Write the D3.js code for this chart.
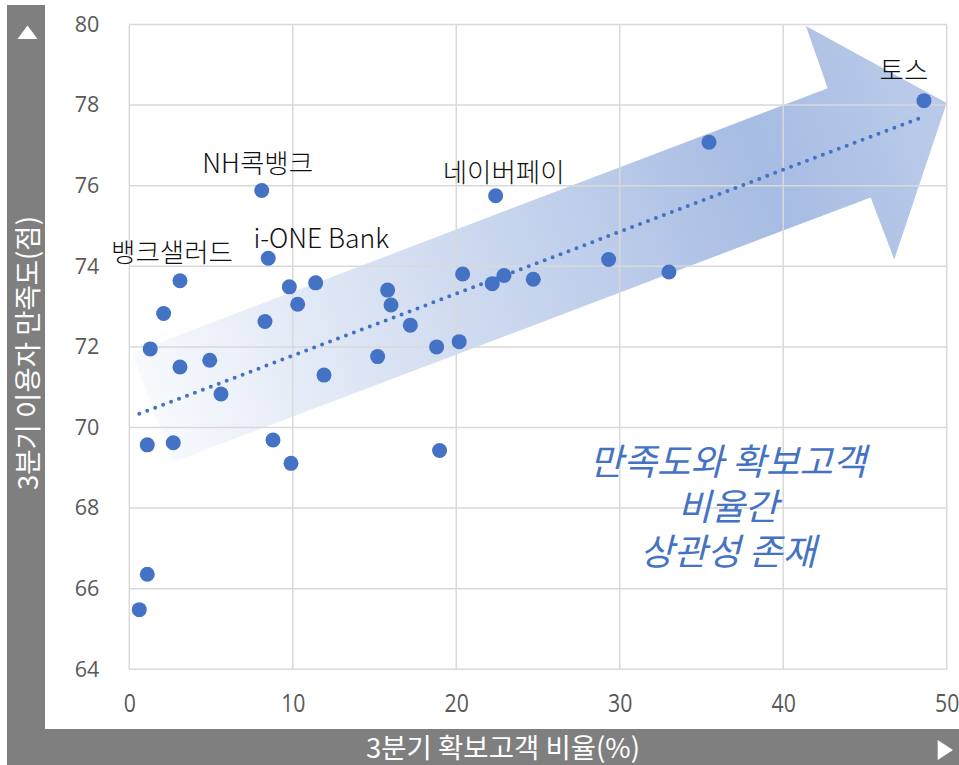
<!DOCTYPE html>
<html><head><meta charset="utf-8">
<script src="https://cdn.jsdelivr.net/npm/d3@7"></script>
<style>body{margin:0;background:#fff}</style></head>
<body><svg id="c" width="959" height="765"></svg>
<script>
// ---- data ----
const shareValues = [0.61, 1.10, 1.10, 2.69, 1.28, 2.10, 3.10, 3.10, 4.92, 5.61,
  8.10, 8.50, 8.30, 8.79, 9.79, 10.30, 11.40, 9.89, 11.91, 15.19,
  15.80, 16.01, 17.19, 18.80, 18.98, 20.18, 20.39, 22.41, 22.20, 22.92,
  24.71, 29.32, 33.01, 35.46, 48.61];
const satisfactionValues = [65.48, 66.36, 69.57, 69.62, 71.95, 72.83, 73.64, 71.50, 71.67, 70.83,
  75.88, 74.20, 72.63, 69.69, 73.49, 73.06, 73.59, 69.11, 71.30, 71.76,
  73.41, 73.04, 72.54, 72.00, 69.43, 72.13, 73.81, 75.75, 73.57, 73.77,
  73.68, 74.17, 73.86, 77.08, 78.11];
const labelNames = ["토스", "NH콕뱅크", "네이버페이", "i-ONE Bank", "뱅크샐러드"];
const labelIndex = [34, 10, 27, 11, 6];
const xTicks = [0, 10, 20, 30, 40, 50];
const yTicks = [64, 66, 68, 70, 72, 74, 76, 78, 80];
const xTitle = "3분기 확보고객 비율(%)";
const yTitle = "3분기 이용자 만족도(점)";
const noteLines = ["만족도와 확보고객", "비율간", "상관성 존재"];
// arrow outline in data units (share, satisfaction)
const arrowShare = [0.17, 42.72, 41.39, 50.0, 46.79, 45.35, 2.65];
const arrowSat = [71.85, 78.42, 79.96, 78.05, 74.17, 75.71, 69.14];

// ---- layout ----
const W = 959, H = 765;
const pLeft = 129.3, pRight = 946.7, pTop = 24.5, pBottom = 669.3;
const x = d3.scaleLinear().domain([0, 50]).range([pLeft, pRight]);
const y = d3.scaleLinear().domain([64, 80]).range([pBottom, pTop]);
const svg = d3.select("#c");
const blue = "#4472C4";
const grey = "#7f7f7f";

// grey title bands
svg.append("rect").attr("x", 7).attr("y", 5).attr("width", 38).attr("height", H - 5).attr("fill", grey);
svg.append("rect").attr("x", 7).attr("y", 729).attr("width", W - 7).attr("height", H - 729).attr("fill", grey);
svg.append("path").attr("d", "M27.5,25.5L37.5,39L17.5,39Z").attr("fill", "#fff");
svg.append("path").attr("d", "M937.7,740L953,750L937.7,760Z").attr("fill", "#fff");

svg.append("text").attr("transform", "translate(38,353) rotate(-90)")
  .attr("text-anchor", "middle").attr("fill", "#fff")
  .attr("font-family", "'Noto Sans CJK KR', sans-serif").attr("font-size", 27.5)
  .text(yTitle);
svg.append("text").attr("transform", "translate(503,758)")
  .attr("text-anchor", "middle").attr("fill", "#fff")
  .attr("font-family", "'Noto Sans CJK KR', sans-serif").attr("font-size", 27.5)
  .text(xTitle);

// arrow
const defs = svg.append("defs");
const grad = defs.append("linearGradient").attr("id", "ag").attr("gradientUnits", "userSpaceOnUse")
  .attr("x1", x(1)).attr("y1", y(70.5)).attr("x2", x(49)).attr("y2", y(77));
grad.append("stop").attr("offset", 0).attr("stop-color", "#f8fafd");
grad.append("stop").attr("offset", 0.8).attr("stop-color", "#a7bce3");
grad.append("stop").attr("offset", 1).attr("stop-color", "#b9cae9");
const arrowPts = arrowShare.map((s, i) => [x(s), y(arrowSat[i])]);
svg.append("path").attr("d", d3.line()(arrowPts) + "Z").attr("fill", "url(#ag)");

// grid
const grid = svg.append("g").attr("stroke", "#d9d9d9").attr("stroke-width", 1.5);
xTicks.forEach(t => grid.append("line").attr("x1", x(t)).attr("x2", x(t)).attr("y1", pTop).attr("y2", pBottom));
yTicks.forEach(t => grid.append("line").attr("x1", pLeft).attr("x2", pRight).attr("y1", y(t)).attr("y2", y(t)));

// axes
const ya = svg.append("g").attr("transform", `translate(${pLeft},0)`)
  .call(d3.axisLeft(y).tickValues(yTicks).tickSize(0).tickPadding(30));
ya.select(".domain").remove();
ya.selectAll("text").attr("font-family", "'Open Sans', sans-serif").attr("font-size", 21.5).attr("fill", "#595959");
const xa = svg.append("g").attr("transform", `translate(0,${pBottom})`)
  .call(d3.axisBottom(x).tickValues(xTicks).tickSize(0).tickPadding(25));
xa.select(".domain").remove();
xa.selectAll("text").attr("font-family", "'Open Sans', sans-serif").attr("font-size", 25).attr("fill", "#595959")
  .attr("transform", "scale(0.85,1)");

// trendline (least squares)
const mx = d3.mean(shareValues), my = d3.mean(satisfactionValues);
let sxy = 0, sxx = 0;
shareValues.forEach((v, i) => { sxy += (v - mx) * (satisfactionValues[i] - my); sxx += (v - mx) * (v - mx); });
const slope = sxy / sxx, icpt = my - slope * mx;
const [x0, x1] = d3.extent(shareValues);
svg.append("line").attr("x1", x(x0)).attr("y1", y(icpt + slope * x0))
  .attr("x2", x(x1)).attr("y2", y(icpt + slope * x1))
  .attr("stroke", blue).attr("stroke-width", 4).attr("stroke-linecap", "round")
  .attr("stroke-dasharray", "0 8.5");

// points
svg.append("g").selectAll("circle").data(shareValues).join("circle")
  .attr("cx", d => x(d)).attr("cy", (d, i) => y(satisfactionValues[i]))
  .attr("r", 7.5).attr("fill", blue);

// labels
const labelOffset = { "토스": [-20, -21], "NH콕뱅크": [-4, -18], "네이버페이": [8, -14], "i-ONE Bank": [53, -10], "뱅크샐러드": [-8, -19] };
labelNames.forEach((n, k) => {
  const i = labelIndex[k];
  const o = labelOffset[n];
  svg.append("text").attr("x", x(shareValues[i]) + o[0]).attr("y", y(satisfactionValues[i]) + o[1])
    .attr("text-anchor", "middle").attr("fill", "#111")
    .attr("font-family", "'Noto Sans CJK KR', sans-serif").attr("font-size", 26.5).attr("font-weight", 300)
    .text(n);
});

// note
const note = svg.append("text").attr("text-anchor", "middle").attr("fill", blue)
  .attr("font-family", "'Noto Sans CJK KR', sans-serif").attr("font-size", 36.5).attr("font-style", "italic");
noteLines.forEach((t, i) => note.append("tspan").attr("x", 728).attr("y", 475 + i * 45).text(t));
</script>
</body></html>
